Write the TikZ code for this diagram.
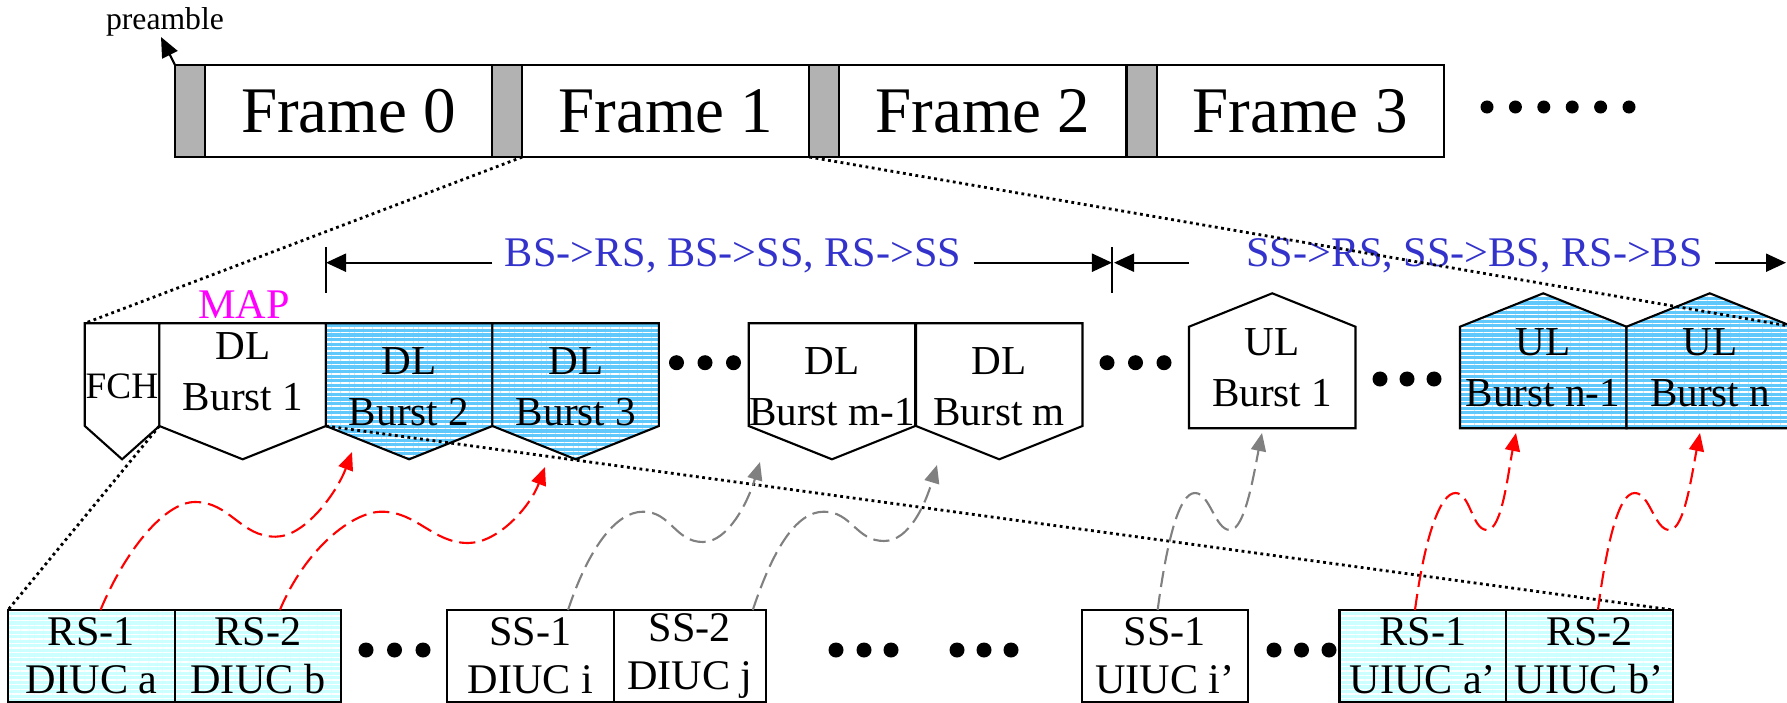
\documentclass[tikz,border=0pt]{standalone}
\usepackage{fontspec}
\setmainfont{Liberation Serif}
\usetikzlibrary{arrows.meta, patterns.meta, positioning}

\definecolor{pregray}{RGB}{178,178,178}
\definecolor{burstblue}{RGB}{96,200,250}
\definecolor{rscyan}{RGB}{204,255,255}
\definecolor{spanblue}{RGB}{51,51,204}
\definecolor{mapmagenta}{RGB}{255,0,255}

\begin{document}
\begin{tikzpicture}[x=0.01cm, y=-0.01cm,
  prebox/.style={draw, fill=pregray, line width=0.6pt, minimum width=0.3cm, minimum height=0.92cm, inner sep=0pt, outer sep=0pt},
  frmbox/.style={draw, line width=0.6pt, minimum width=2.87cm, minimum height=0.92cm, inner sep=0pt, outer sep=0pt, font=\fontsize{18.5}{22}\selectfont},
  plainburst/.style={draw, line width=0.6pt, fill=white},
  blueburst/.style={draw, line width=0.6pt, preaction={fill=burstblue}, pattern={Lines[angle=0,distance=1.3pt,line width=0.38pt]}, pattern color=white},
  bursttxt/.style={align=center, inner sep=0pt, font=\fontsize{11.7}{14.5}\selectfont},
  ssbox/.style={draw, line width=0.6pt, fill=white, minimum width=1.665cm, minimum height=0.917cm, inner sep=0pt, outer sep=0pt, align=center, font=\fontsize{12}{13.7}\selectfont},
  rsbox/.style={ssbox, preaction={fill=rscyan}, pattern={Lines[angle=0,distance=1.3pt,line width=0.38pt]}, pattern color=white},
  spantxt/.style={text=spanblue, inner sep=3.4pt, font=\fontsize{12}{14}\selectfont},
  dimarrow/.style={line width=0.6pt, -{Triangle[length=0.2cm,width=0.18cm]}},
  dotline/.style={line width=0.8pt, densely dotted},
  wave/.style={line width=0.6pt, dash pattern=on 4.6pt off 2pt, -{Triangle[length=0.18cm,width=0.15cm]}}]
  \useasboundingbox (0,0) rectangle (1787,703);
  \clip (0,0) rectangle (1787,703);

  % frame row
  \node[prebox] (p0) at (190,111) {};
  \node[frmbox, right=0pt of p0] (f0) {Frame 0};
  \node[prebox, right=0pt of f0] (p1) {};
  \node[frmbox, right=0pt of p1] (f1) {Frame 1};
  \node[prebox, right=0pt of f1] (p2) {};
  \node[frmbox, right=0pt of p2] (f2) {Frame 2};
  \node[prebox, right=0pt of f2] (p3) {};
  \node[frmbox, right=0pt of p3] (f3) {Frame 3};
  \foreach \x in {1487,1515.4,1543.8,1572.2,1600.6,1629}
    \fill (\x,107) circle[radius=0.065cm];

  \node[font=\fontsize{9}{10}\selectfont, inner sep=0pt] (pretxt) at (165,22) {preamble};
  \coordinate (pretip) at (161,37);
  \draw[line width=0.6pt, -{Triangle[length=0.2cm,width=0.17cm]}] (p0.north west) -- (pretip);

  % burst row
  \path[plainburst] (84.8,323.3) -- ++(74.6,0) -- ++(0,102.7) -- ++(-37.3,33.3) -- ++(-37.3,-33.3) -- cycle;
  \foreach \x/\s in {159.4/plainburst, 325.9/blueburst, 492.4/blueburst, 748.7/plainburst, 916/plainburst}
    \path[\s] (\x,323.3) -- ++(166.5,0) -- ++(0,102.7) -- ++(-83.25,33.3) -- ++(-83.25,-33.3) -- cycle;
  \foreach \x/\s in {1189/plainburst, 1460/blueburst, 1626.5/blueburst}
    \path[\s] (\x,428.3) -- ++(166.5,0) -- ++(0,-101.6) -- ++(-83.25,-33.4) -- ++(-83.25,33.4) -- cycle;

  \node[bursttxt, font=\fontsize{10.6}{12}\selectfont] (fch) at (122,386.7) {FCH};
  \node[bursttxt] (dl1) at (243,372) {DL\\Burst 1};
  \node[bursttxt] (dl2) at (409,387) {DL\\Burst 2};
  \node[bursttxt] (dl3) at (576,387) {DL\\Burst 3};
  \node[bursttxt] (dlm1) at (832,387) {DL\\Burst m-1};
  \node[bursttxt] (dlm) at (999,387) {DL\\Burst m};
  \node[bursttxt] (ul1) at (1272,368) {UL\\Burst 1};
  \node[bursttxt] (uln1) at (1543,368) {UL\\Burst n-1};
  \node[bursttxt] (uln) at (1710,368) {UL\\Burst n};
  \node[text=mapmagenta, inner sep=0pt, font=\fontsize{12}{14}\selectfont] (map) at (244,305) {MAP};

  \foreach \x in {676.5,705,733.5, 1107,1135.5,1164}
    \fill (\x,362.7) circle[radius=0.075cm];
  \foreach \x in {1380,1407,1434}
    \fill (\x,379) circle[radius=0.075cm];

  % spans
  \coordinate (tka) at (326,262.7);
  \coordinate (tkb) at (1112,262.7);
  \coordinate (ulend) at (1189,262.7);
  \coordinate (rend) at (1786,262.7);
  \draw[line width=0.6pt] (326,247) -- (326,293);
  \draw[line width=0.6pt] (1112,247) -- (1112,293);
  \node[spantxt] (span1) at (733,256) {BS->RS, BS->SS, RS->SS};
  \node[spantxt] (span2) at (1474.5,256) {SS->RS, SS->BS, RS->BS};
  \draw[dimarrow] (span1.west |- tka) -- (tka);
  \draw[dimarrow] (span1.east |- tkb) -- (tkb);
  \draw[dimarrow] (ulend) -- ([xshift=0.02cm]tkb);
  \draw[dimarrow] (span2.east |- rend) -- (rend);

  % allocation row
  \node[rsbox] (rs1) at (91.3,655.85) {RS-1\\DIUC a};
  \node[rsbox, right=0pt of rs1] (rs2) {RS-2\\DIUC b};
  \node[ssbox] (ss1) at (530.4,655.85) {SS-1\\DIUC i};
  \node[ssbox, minimum width=1.52cm, right=0pt of ss1] (ss2) {SS-2\\DIUC j};
  \node[ssbox] (us1) at (1164.85,655.85) {SS-1\\UIUC i’};
  \node[rsbox] (ra1) at (1422.8,655.85) {RS-1\\UIUC a’};
  \node[rsbox, right=0pt of ra1] (ra2) {RS-2\\UIUC b’};
  \foreach \x in {366,394.5,423, 836,864,891, 957,984,1011, 1274,1301.5,1329}
    \fill (\x,650) circle[radius=0.075cm];

  % zoom lines
  \coordinate (fchnw) at (84.8,323.3);
  \coordinate (ulnne) at (1793,326.7);
  \coordinate (dlsw) at (159.4,426);
  \coordinate (dlse) at (325.9,426);
  \draw[dotline] (f1.south west) -- (fchnw);
  \draw[dotline] (p2.south west) -- (ulnne);
  \draw[dotline] (dlsw) -- (rs1.north west);
  \draw[dotline] (dlse) -- (ra2.north east);

  % map entries
  \coordinate (r1tip) at (352,452);
  \coordinate (r2tip) at (545,467);
  \coordinate (g1tip) at (760,462);
  \coordinate (g2tip) at (937,465);
  \coordinate (g3tip) at (1262,433);
  \coordinate (r3tip) at (1516,433);
  \coordinate (r4tip) at (1700,433);
  \draw[wave, red] ([xshift=0.092cm]rs1.north) .. controls +(25,-60) and +(-30,0) .. (195,502)
    .. controls +(35,0) and +(-35,0) .. (275.5,536.7) .. controls +(30,0) and +(-15,40) .. (r1tip);
  \draw[wave, red] ([xshift=0.22cm]rs2.north) .. controls +(25,-60) and +(-30,0) .. (381.7,511.7)
    .. controls +(35,0) and +(-35,0) .. (468,543) .. controls +(30,0) and +(-15,40) .. (r2tip);
  \draw[wave, gray] ([xshift=0.376cm]ss1.north) .. controls +(20,-60) and +(-28,0) .. (643,511.7)
    .. controls +(28,0) and +(-28,0) .. (703,542) .. controls +(25,0) and +(-12,40) .. (g1tip);
  \draw[wave, gray] ([xshift=0.63cm]ss2.north) .. controls +(20,-60) and +(-28,0) .. (823.8,511.7)
    .. controls +(28,0) and +(-28,0) .. (884,541) .. controls +(25,0) and +(-12,40) .. (g2tip);
  \draw[wave, gray] ([xshift=-0.072cm]us1.north) .. controls +(10,-75) and +(-15,0) .. (1195,493)
    .. controls +(15,0) and +(-15,0) .. (1230,530) .. controls +(15,0) and +(-8,40) .. (g3tip);
  \draw[wave, red] ([xshift=-0.078cm]ra1.north) .. controls +(10,-75) and +(-15,0) .. (1455.5,493)
    .. controls +(15,0) and +(-15,0) .. (1487,530) .. controls +(15,0) and +(-8,40) .. (r3tip);
  \draw[wave, red] ([xshift=0.085cm]ra2.north) .. controls +(10,-75) and +(-15,0) .. (1634.8,493)
    .. controls +(15,0) and +(-15,0) .. (1669.5,530) .. controls +(15,0) and +(-8,40) .. (r4tip);
\end{tikzpicture}
\end{document}
